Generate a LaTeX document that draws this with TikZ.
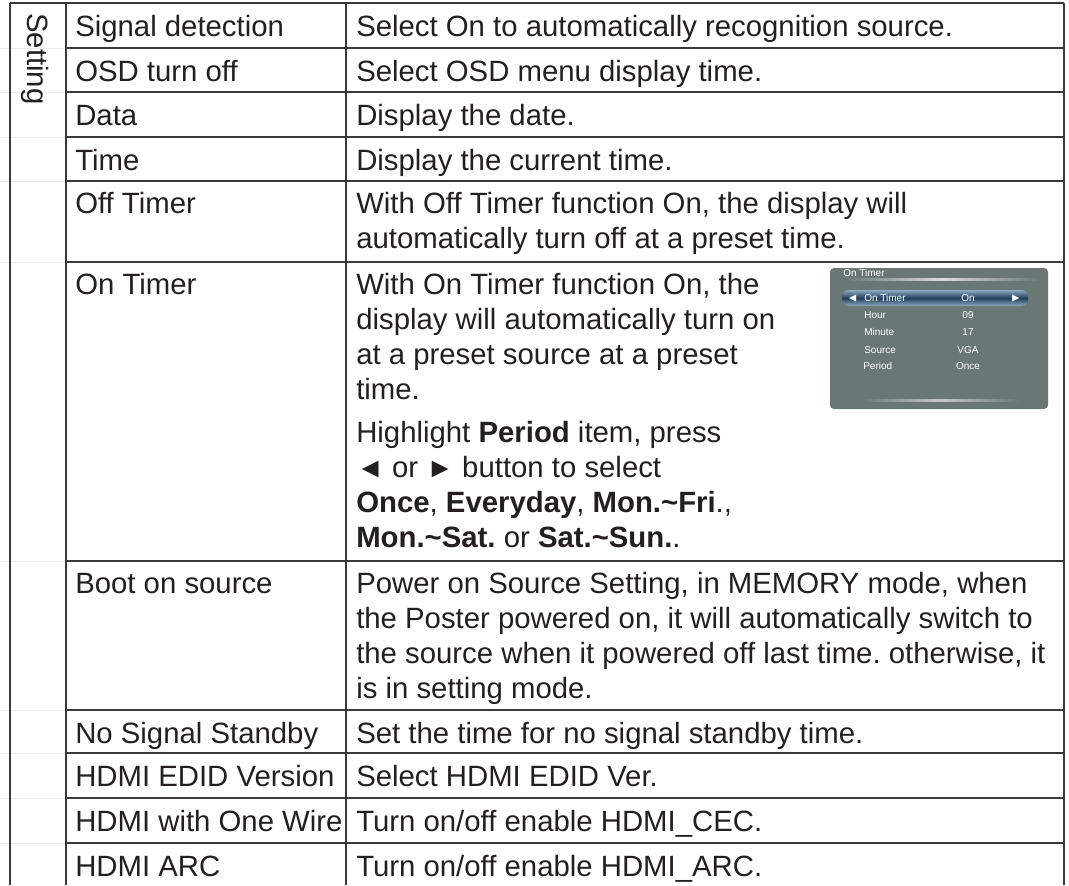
\documentclass[tikz,border=0pt]{standalone}
\usepackage{fontspec}
\setmainfont{Liberation Sans}
\usepackage{xcolor}
\usepackage{tikz}
\definecolor{ink}{HTML}{231F20}
\definecolor{rulegray}{HTML}{3A3A3A}
\definecolor{osdgray}{HTML}{6B7775}
\definecolor{osdbar}{HTML}{22405C}
\definecolor{osdedge}{HTML}{8DAAC2}
\newcommand{\cellfont}{\fontsize{22}{26.25}\selectfont\frenchspacing}
\newcommand{\osdfont}{\fontsize{7.5}{9}\selectfont}
\newcommand{\lefttri}{{\fontsize{21}{21}\selectfont ◄}}
\newcommand{\righttri}{{\fontsize{21}{21}\selectfont ►}}
\tikzstyle{rule} = [rulegray, line width=1.1pt]
\tikzstyle{faint} = [black!8, line width=0.6pt]
\tikzstyle{cell} = [anchor=base west, inner sep=0pt, align=left, text=ink, font=\cellfont]
\tikzstyle{para} = [cell, text width=540pt, align=flush left]
\tikzstyle{osdtext} = [inner sep=0pt, text=white, font=\osdfont]

\begin{document}
\begin{tikzpicture}[x=0.75pt, y=-0.75pt]
		\useasboundingbox (0, 0) rectangle (1069, 885);
		% faint marks left of the table
		\foreach \y in {48, 92, 137, 181, 262, 561, 710, 753, 798, 843}
			\draw[faint] (0, \y) -- (66, \y);
		% grid
		\draw[rule] (10, 3) -- (1064, 3);
		\foreach \y in {48, 92, 137, 181, 262, 561, 710, 753, 798, 843}
			\draw[rule] (66, \y) -- (1064, \y);
		\draw[rule] (10, 3) -- (10, 885);
		\draw[rule] (66, 3) -- (66, 885);
		\draw[rule] (346, 3) -- (346, 885);
		\draw[rule] (1064, 3) -- (1064, 885);
		% group label
		\node[cell, rotate=-90] (setting) at (27, 13) {Setting};
		% items
		\node[cell] (sigdet) at (75, 36) {Signal detection};
		\node[cell] (osdoff) at (75, 81) {OSD turn off};
		\node[cell] (data) at (75, 125) {Data};
		\node[cell] (time) at (75, 170) {Time};
		\node[cell] (offtimer) at (75, 213) {Off Timer};
		\node[cell] (ontimer) at (75, 294) {On Timer};
		\node[cell] (bootsrc) at (75, 593) {Boot on source};
		\node[cell] (nosignal) at (75, 743) {No Signal Standby};
		\node[cell] (edid) at (75, 786) {HDMI EDID Version};
		\node[cell] (onewire) at (75, 831) {HDMI with One Wire};
		\node[cell] (hdmiarc) at (75, 876) {HDMI ARC};
		% descriptions
		\node[cell] (sigdetdesc) at (356, 36) {Select On to automatically recognition source.};
		\node[cell] (osdoffdesc) at (356, 81) {Select OSD menu display time.};
		\node[cell] (datadesc) at (356, 125) {Display the date.};
		\node[cell] (timedesc) at (356, 170) {Display the current time.};
		\node[para] (offtimerdesc) at (356, 213) {With Off Timer function On, the display will\\automatically turn off at a preset time.};
		\node[para] (ontimerdesc) at (356, 294) {With On Timer function On, the\\display will automatically turn on\\at a preset source at a preset\\time.};
		\node[para] (perioddesc) at (356, 442) {Highlight \textbf{Period} item, press\\\lefttri{} or \righttri{} button to select\\\textbf{Once}, \textbf{Everyday}, \textbf{Mon.\textasciitilde Fri}.,\\\textbf{Mon.\textasciitilde Sat.} or \textbf{Sat.\textasciitilde Sun.}.};
		\node[para] (bootsrcdesc) at (356, 593) {Power on Source Setting, in MEMORY mode, when\\the Poster powered on, it will automatically switch to\\the source when it powered off last time. otherwise, it\\is in setting mode.};
		\node[cell] (nosignaldesc) at (356, 743) {Set the time for no signal standby time.};
		\node[cell] (ediddesc) at (356, 786) {Select HDMI EDID Ver.};
		\node[cell] (onewiredesc) at (356, 831) {Turn on/off enable HDMI\_CEC.};
		\node[cell] (hdmiarcdesc) at (356, 876) {Turn on/off enable HDMI\_ARC.};
		% on timer screen
		\fill[osdgray, rounded corners=3pt] (830, 268) rectangle (1048, 409);
		\node[osdtext, anchor=west] (osdtitle) at (843, 273) {On Timer};
		\shade[left color=osdgray, right color=osdgray, middle color=white!75!osdgray] (845, 278.5) rectangle (1040, 280);
		\shade[rounded corners=5pt, top color=osdedge, bottom color=osdedge, middle color=osdbar] (842, 290) rectangle (1028, 306);
		\fill[white] (849, 298) -- (856, 294.5) -- (856, 301.5) -- cycle;
		\fill[white] (1019, 298) -- (1012, 294.5) -- (1012, 301.5) -- cycle;
		\node[osdtext, anchor=west] (osdontimer) at (864, 298) {On Timer};
		\node[osdtext] (osdon) at (968, 298) {On};
		\node[osdtext, anchor=west] (osdhour) at (864, 315) {Hour};
		\node[osdtext] (osdhourval) at (968, 315) {09};
		\node[osdtext, anchor=west] (osdminute) at (864, 332) {Minute};
		\node[osdtext] (osdminuteval) at (968, 332) {17};
		\node[osdtext, anchor=west] (osdsource) at (864, 350) {Source};
		\node[osdtext] (osdsourceval) at (968, 350) {VGA};
		\node[osdtext, anchor=west] (osdperiod) at (863, 366) {Period};
		\node[osdtext] (osdperiodval) at (968, 366) {Once};
		\shade[left color=osdgray, right color=osdgray, middle color=white!60!osdgray] (860, 399.5) rectangle (1020, 401);
\end{tikzpicture}
\end{document}
